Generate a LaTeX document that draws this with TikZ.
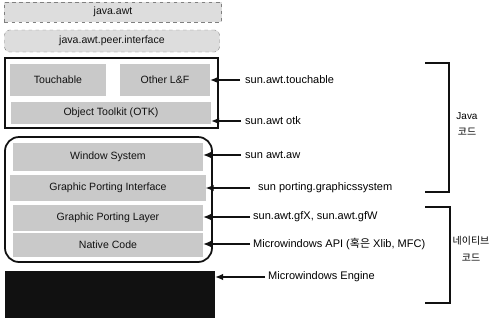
\documentclass[tikz,border=0pt]{standalone}
\usepackage{fontspec}
\setmainfont{Liberation Sans}
\newfontfamily\krfont{Noto Sans CJK KR}
\usepackage{tikz}
\usetikzlibrary{arrows.meta,positioning}
\definecolor{ink}{HTML}{111111}
\definecolor{hatch}{HTML}{C9C9C9}
\definecolor{palehatch}{HTML}{DDDDDD}
\tikzset{
  layerbox/.style={fill=hatch,inner sep=0pt,font=\fontsize{9}{10}\selectfont,text=ink},
  peerbox/.style={draw=gray,dashed,fill=palehatch,inner sep=0pt,
    font=\fontsize{9}{10}\selectfont,text=ink},
  groupbox/.style={draw=ink,line width=1.5pt,inner sep=0pt},
  apilabel/.style={anchor=west,inner sep=0pt,font=\fontsize{9.4}{11}\selectfont},
  sidelabel/.style={align=center,inner sep=0pt,font=\fontsize{8.5}{14}\selectfont},
  pointer/.style={-{Latex[length=2.4mm,width=2mm]},line width=1pt,draw=ink},
  bracket/.style={line width=1.3pt,draw=ink}
}

\begin{document}
\begin{tikzpicture}[x=0.03cm,y=-0.03cm]
\useasboundingbox (0,0) rectangle (494,323);
% java layers on top
\node[peerbox,minimum width=6.51cm,minimum height=0.6cm] (awt) at (113,12) {java.awt};
\node[peerbox,rounded corners=4pt,minimum width=6.45cm,minimum height=0.66cm] (peer) at (112,41) {java.awt.peer.interface};
% toolkit group
\node[groupbox,minimum width=6.39cm,minimum height=2.1cm] (toolkit) at (111.5,93) {};
\node[layerbox,minimum width=2.85cm,minimum height=0.96cm] (touch) at (58,80) {Touchable};
\node[layerbox,minimum width=2.7cm,minimum height=0.96cm] (otherlf) at (165,80) {Other L\&F};
\node[layerbox,minimum width=6cm,minimum height=0.66cm] (otk) at (111,113) {Object Toolkit (OTK)};
% porting group
\node[groupbox,rounded corners=12pt,minimum width=6.21cm,minimum height=3.75cm] (porting) at (108.5,199.5) {};
\node[layerbox,minimum width=5.7cm,minimum height=0.84cm] (winsys) at (108,157) {Window System};
\node[layerbox,minimum width=5.85cm,minimum height=0.78cm] (gpi) at (108,188) {Graphic Porting Interface};
\node[layerbox,minimum width=5.7cm,minimum height=0.78cm] (gpl) at (108,218) {Graphic Porting Layer};
\node[layerbox,minimum width=5.7cm,minimum height=0.72cm] (ncode) at (108,245) {Native Code};
% engine
\node[fill=ink,inner sep=0pt,minimum width=6.3cm,minimum height=1.41cm] (engine) at (110,294.5) {};

% api labels
\node[apilabel] (lbltouch) at (245,80) {sun.awt.touchable};
\node[apilabel] (lblotk) at (245,121) {sun.awt otk};
\node[apilabel] (lblaw) at (245,155) {sun awt.aw};
\node[apilabel] (lblgfxsys) at (258,188) {sun porting.graphicssystem};
\node[apilabel] (lblgfx) at (253,217) {sun.awt.gfX, sun.awt.gfW};
\node[apilabel] (lblapi) at (253,244) {Microwindows API ({\krfont 혹은} Xlib, MFC)};
\node[apilabel] (lblengine) at (268,277) {Microwindows Engine};

\draw[pointer] (lbltouch.west) ++(-5,0) -- (otherlf.east |- lbltouch.west);
\draw[pointer] (lblotk.west) ++(-4,0) -- (otk.east |- lblotk.west);
\draw[pointer] (lblaw.west) ++(-4,0) -- (winsys.east |- lblaw.west);
\draw[pointer] (lblgfxsys.west) ++(-8,0) -- (gpi.east |- lblgfxsys.west);
\draw[pointer] (lblgfx.west) ++(-3,0) -- (gpl.east |- lblgfx.west);
\draw[pointer] (lblapi.west) ++(-3,0) -- (ncode.east |- lblapi.west);
\draw[pointer] (lblengine.west) ++(-3,0) -- (engine.east |- lblengine.west);

% brackets on the right
\coordinate (javatop) at (425,63);
\coordinate (javabot) at (425,192);
\coordinate (nattop) at (425,207);
\coordinate (natbot) at (425,303);
\draw[bracket] (javatop) -- ++(24,0) |- (javabot);
\draw[bracket] (nattop) -- ++(25,0) |- (natbot);
\node[sidelabel] (javacode) at (467,124) {Java\\{\krfont 코드}};
\node[sidelabel] (nativecode) at (471,249) {{\krfont 네이티브}\\{\krfont 코드}};
\end{tikzpicture}
\end{document}
